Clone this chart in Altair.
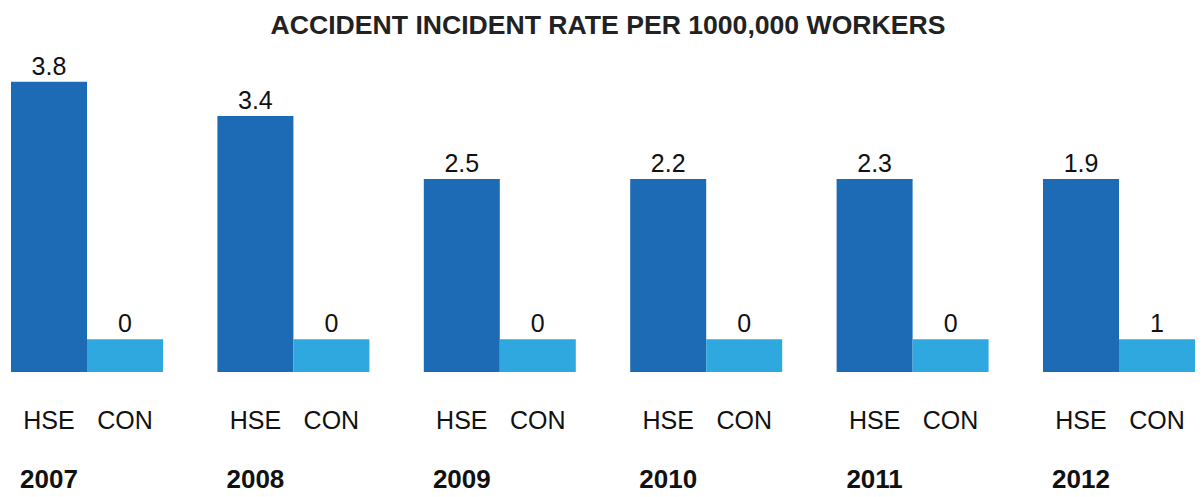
import altair as alt
import pandas as pd

years = ["2007", "2008", "2009", "2010", "2011", "2012"]
series = ["HSE", "CON"]
hse_labels = ["3.8", "3.4", "2.5", "2.2", "2.3", "1.9"]
con_labels = ["0", "0", "0", "0", "0", "1"]
# drawn bar heights (the infographic is not to scale)
hse_heights = [3.82, 3.37, 2.54, 2.54, 2.54, 2.54]
con_heights = [0.43, 0.43, 0.43, 0.43, 0.43, 0.43]
colors = ["#1c6bb4", "#2fa8df"]
title_text = ["ACCIDENT INCIDENT RATE PER 1000,000 WORKERS"]

rows = []
for i, y in enumerate(years):
    rows.append({"year": y, "series": "HSE", "height": hse_heights[i], "label": hse_labels[i]})
    rows.append({"year": y, "series": "CON", "height": con_heights[i], "label": con_labels[i]})
df = pd.DataFrame(rows)

FONT = "Liberation Sans"
W = 1184
H = 304

base = alt.Chart(df).encode(
    x=alt.X("year:N", axis=None, sort=years,
            scale=alt.Scale(paddingInner=0.2636, paddingOuter=0)),
    xOffset=alt.XOffset("series:N", sort=series,
                        scale=alt.Scale(domain=series, paddingInner=0, paddingOuter=0)),
)

bars = base.mark_bar().encode(
    y=alt.Y("height:Q", axis=None, scale=alt.Scale(domain=[0, 4], nice=False)),
    color=alt.Color("series:N", scale=alt.Scale(domain=series, range=colors), legend=None),
)

vals = base.mark_text(dy=-7, baseline="alphabetic", fontSize=25, font=FONT, color="#111111").encode(
    y=alt.Y("height:Q"),
    text="label:N",
)

cats = base.mark_text(baseline="alphabetic", fontSize=25, font=FONT, color="#111111").encode(
    y=alt.value(361),
    text="series:N",
)

yrs = base.transform_filter(alt.datum.series == "HSE").mark_text(
    baseline="alphabetic", fontSize=26, fontWeight="bold", font=FONT, color="#111111"
).encode(
    y=alt.value(420),
    text="year:N",
)

title = alt.Chart(pd.DataFrame({"t": title_text})).mark_text(
    baseline="alphabetic", align="center", fontSize=26.6, fontWeight="bold",
    font=FONT, color="#222222",
).encode(
    x=alt.value(597),
    y=alt.value(-34),
    text="t:N",
)

chart = alt.layer(bars, vals, cats, yrs, title).properties(
    width=W,
    height=H,
    autosize=alt.AutoSizeParams(type="none"),
    padding={"left": 3, "top": 60, "right": 0, "bottom": 123},
    background="white",
).configure_view(stroke=None)

chart.save("out.html", embed_options={"renderer": "svg", "actions": False})
